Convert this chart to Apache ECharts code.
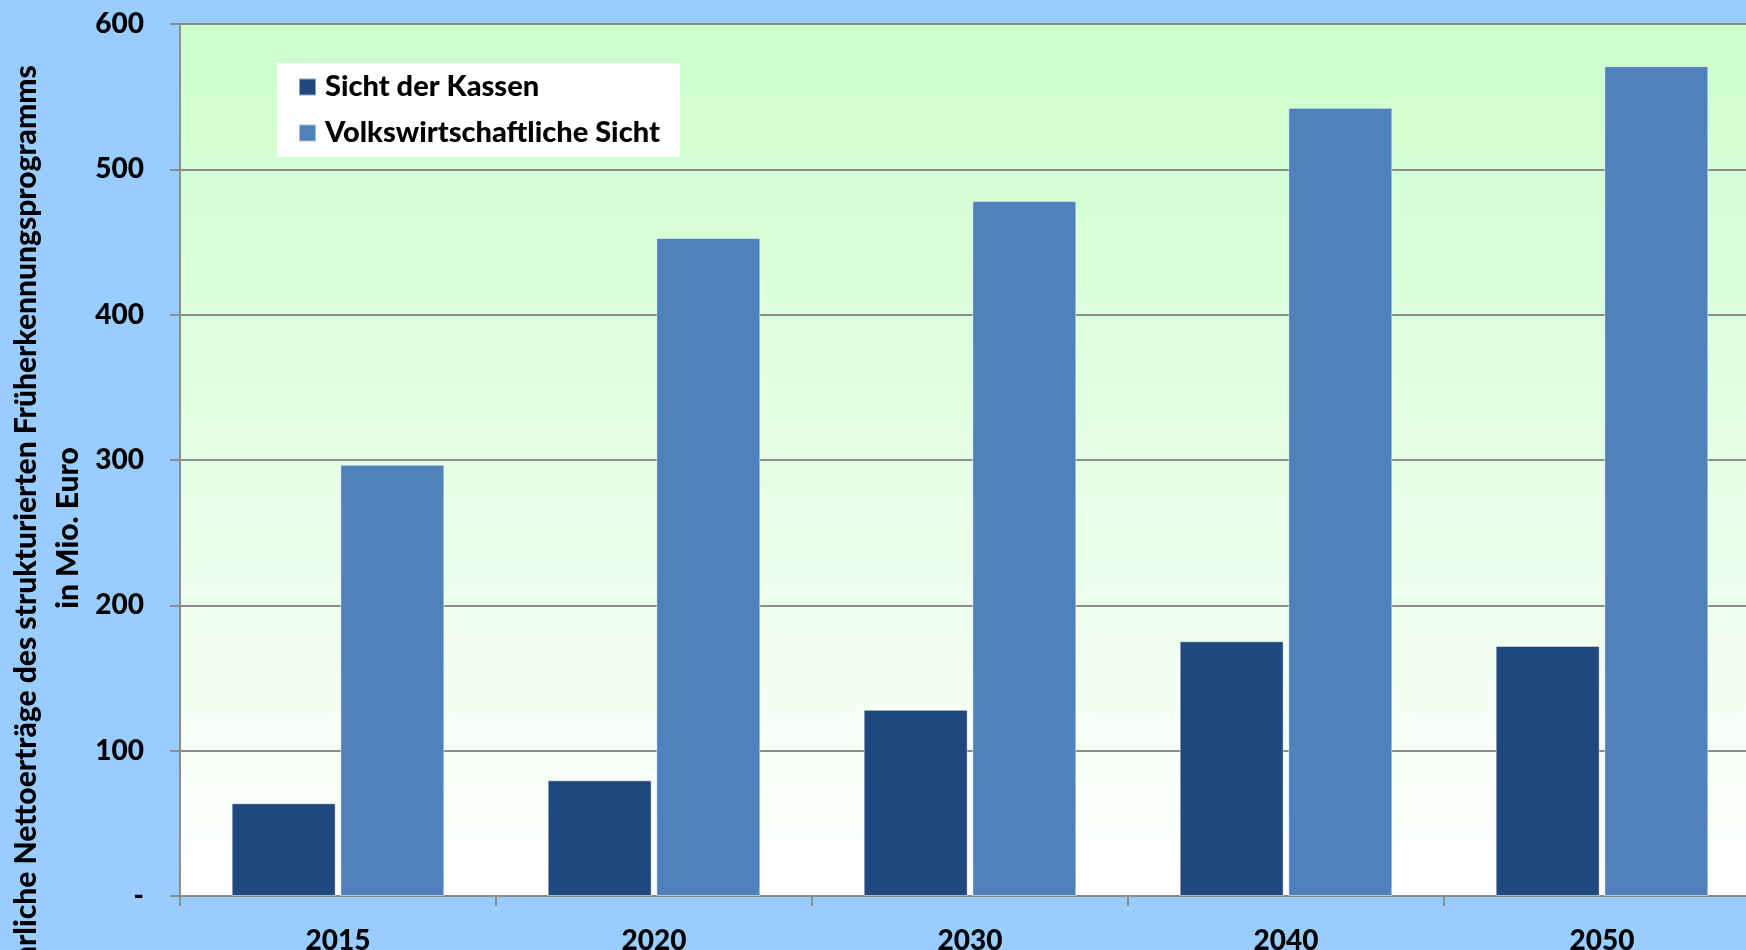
<!DOCTYPE html>
<html>
<head>
<meta charset="utf-8">
<script src="https://cdn.jsdelivr.net/npm/echarts@6/dist/echarts.min.js"></script>
<style>
  html, body { margin: 0; padding: 0; background: #99CCFF; }
  #chart { width: 1746px; height: 950px; }
</style>
</head>
<body>
<div id="chart"></div>
<script>
  // Jahre auf der x-Achse
  const years = ['2015', '2020', '2030', '2040', '2050'];
  const seriesNames = ['Sicht der Kassen', 'Volkswirtschaftliche Sicht'];
  // Werte in Mio. Euro
  const kassen = [63.8, 79.6, 128.1, 175.3, 172.1];
  const volkswirtschaft = [296.7, 452.8, 478.2, 542.3, 571.0];
  const yTicks = [0, 100, 200, 300, 400, 500, 600];
  const axisTitle = ['Jährliche Nettoerträge des strukturierten Früherkennungsprogramms', 'in Mio. Euro'];

  const font = 'Lato';
  const chart = echarts.init(document.getElementById('chart'));

  const option = {
    backgroundColor: '#99CCFF',
    animation: false,
    grid: {
      left: 180,
      right: -14,
      top: 24,
      bottom: 54,
      outerBoundsMode: 'none',
      containLabel: false,
      show: true,
      borderWidth: 0,
      backgroundColor: new echarts.graphic.LinearGradient(0, 0, 0, 1, [
        { offset: 0, color: '#CCFFCC' },
        { offset: 1, color: '#FFFFFF' }
      ])
    },
    legend: {
      orient: 'vertical',
      left: 277,
      top: 63,
      data: seriesNames,
      backgroundColor: '#FFFFFF',
      padding: [9, 20, 9, 21],
      itemWidth: 17,
      itemHeight: 17,
      itemGap: 16,
      icon: 'rect',
      textStyle: {
        fontFamily: font,
        fontWeight: 900,
        fontSize: 29,
        color: '#000',
        lineHeight: 30,
        padding: [0, 0, 0, 4]
      }
    },
    xAxis: {
      type: 'category',
      data: years,
      axisLine: { show: true, lineStyle: { color: '#8C8C8C', width: 2 } },
      axisTick: { show: true, length: 10, lineStyle: { color: '#8C8C8C', width: 2 } },
      axisLabel: {
        margin: 31,
        fontFamily: font,
        fontWeight: 900,
        fontSize: 28,
        color: '#000'
      }
    },
    yAxis: {
      type: 'value',
      min: 0,
      max: yTicks[yTicks.length - 1],
      interval: 100,
      axisLine: { show: true, lineStyle: { color: '#8C8C8C', width: 2 } },
      axisTick: { show: true, length: 10, lineStyle: { color: '#8C8C8C', width: 2 } },
      splitLine: { show: true, lineStyle: { color: '#8C8C8C', width: 2 } },
      axisLabel: {
        margin: 36,
        fontFamily: font,
        fontWeight: 900,
        fontSize: 28,
        color: '#000',
        formatter: function (v) { return v === 0 ? '-' : String(v); }
      }
    },
    graphic: [
      {
        type: 'text',
        x: 26,
        y: 528,
        rotation: Math.PI / 2,
        style: {
          text: axisTitle[0],
          fontFamily: font,
          fontWeight: 900,
          fontSize: 30,
          fill: '#000',
          align: 'center',
          verticalAlign: 'middle'
        }
      },
      {
        type: 'text',
        x: 68,
        y: 528,
        rotation: Math.PI / 2,
        style: {
          text: axisTitle[1],
          fontFamily: font,
          fontWeight: 900,
          fontSize: 30,
          fill: '#000',
          align: 'center',
          verticalAlign: 'middle'
        }
      }
    ],
    series: [
      {
        name: seriesNames[0],
        type: 'bar',
        barWidth: 104,
        barGap: '4.5%',
        itemStyle: { color: '#1F497D', borderColor: 'rgba(255,255,255,0.5)', borderWidth: 1 },
        data: kassen
      },
      {
        name: seriesNames[1],
        type: 'bar',
        barWidth: 104,
        itemStyle: { color: '#4F81BD', borderColor: 'rgba(255,255,255,0.5)', borderWidth: 1 },
        data: volkswirtschaft
      }
    ]
  };

  chart.setOption(option);
  window.addEventListener('resize', function () {
    chart.resize();
  });
</script>
</body>
</html>
